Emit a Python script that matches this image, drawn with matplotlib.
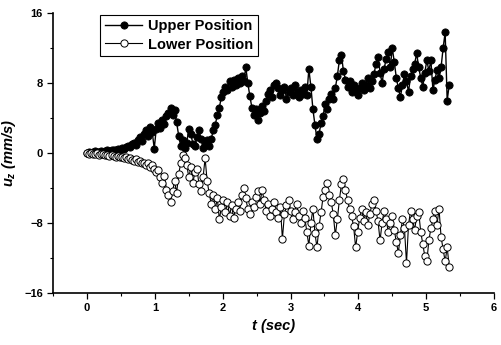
import numpy as np
import matplotlib
matplotlib.use("Agg")
import matplotlib.pyplot as plt
from matplotlib.ticker import MultipleLocator

plt.rcParams['font.family'] = ['Liberation Sans', 'DejaVu Sans']
plt.rcParams['mathtext.fontset'] = 'custom'
plt.rcParams['mathtext.it'] = 'Liberation Sans:bold:italic'
plt.rcParams['mathtext.rm'] = 'Liberation Sans:bold'

# time step between samples (sec)
DT = 0.03

# velocity at the upper position (mm/s)
upper = [
    0.0, 0.1, 0.0, 0.1, 0.2, 0.1, 0.1, 0.2, 0.1, 0.2,
    0.3, 0.2, 0.3, 0.4, 0.3, 0.5, 0.4, 0.6, 0.5, 0.7,
    0.8, 0.7, 1.0, 1.2, 0.9, 1.5, 1.8, 1.4, 2.2, 2.6,
    2.0, 3.0, 2.4, 0.5, 2.8, 3.4, 2.9, 3.8, 3.3, 4.2,
    4.6, 5.2, 4.4, 4.9, 3.5, 2.0, 0.8, 1.5, 0.6, 1.2,
    2.8, 2.2, 1.0, 0.8, 1.8, 2.6, 1.6, 0.6, 0.9, 1.5,
    0.8, 1.6, 2.6, 3.2, 4.4, 5.2, 6.4, 7.0, 7.6, 7.2,
    8.2, 7.6, 8.4, 7.8, 8.6, 8.0, 8.8, 8.2, 9.8, 8.0,
    6.5, 5.2, 4.4, 5.0, 3.8, 4.6, 5.4, 4.8, 6.0, 6.8,
    7.2, 6.4, 7.8, 8.0, 7.4, 6.6, 7.2, 7.6, 6.2, 7.0,
    7.4, 6.6, 7.8, 7.0, 6.4, 7.2, 6.8, 7.6, 6.6, 9.6,
    7.6, 5.0, 3.2, 1.6, 2.2, 3.4, 4.2, 5.6, 5.0, 6.2,
    6.8, 6.2, 7.4, 8.8, 10.6, 11.2, 9.4, 8.4, 7.6, 8.2,
    7.0, 7.8, 7.2, 6.6, 7.4, 8.0, 7.2, 7.8, 8.6, 7.4,
    8.2, 9.0, 10.2, 11.0, 9.2, 8.0, 9.6, 10.8, 11.6, 9.8,
    12.0, 10.4, 8.6, 7.4, 6.4, 7.8, 9.0, 8.2, 7.0, 8.8,
    9.6, 10.2, 11.4, 9.8, 8.6, 7.6, 9.2, 10.6, 9.4, 10.6,
    7.2, 8.4, 9.5, 8.6, 9.8, 12.0, 13.8, 6.0, 7.8,
]

# velocity at the lower position (mm/s)
lower = [
    0.0, -0.1, 0.0, -0.1, -0.1, 0.0, -0.2, -0.1, -0.1, -0.2,
    -0.2, -0.3, -0.2, -0.3, -0.4, -0.3, -0.5, -0.4, -0.6, -0.5,
    -0.7, -0.6, -0.8, -0.9, -0.7, -1.0, -0.9, -1.2, -1.1, -1.4,
    -1.2, -1.6, -1.4, -1.8, -2.2, -2.0, -2.8, -3.4, -2.6, -4.2,
    -4.8, -5.6, -4.4, -3.2, -4.6, -2.4, -1.2, -0.2, -0.6, -1.4,
    -2.8, -1.6, -3.4, -2.2, -1.8, -3.6, -4.4, -2.8, -0.6, -3.2,
    -4.6, -5.8, -4.8, -6.4, -5.2, -7.6, -6.2, -5.4, -6.8, -5.6,
    -7.2, -6.0, -7.4, -6.4, -5.6, -6.6, -4.8, -4.0, -5.2, -6.4,
    -7.0, -5.6, -6.2, -5.0, -4.4, -5.8, -4.2, -5.4, -6.6, -5.8,
    -7.2, -6.4, -5.6, -6.8, -7.4, -6.2, -9.8, -7.0, -6.0, -5.4,
    -6.6, -7.6, -6.8, -5.8, -7.2, -8.0, -6.6, -7.4, -9.0, -10.6,
    -8.0, -6.4, -9.2, -10.8, -8.4, -6.8, -5.0, -4.2, -3.4, -4.8,
    -5.6, -7.0, -9.4, -7.6, -5.4, -3.6, -3.0, -4.2, -5.4, -6.4,
    -7.2, -8.4, -10.8, -9.0, -7.4, -6.4, -7.8, -6.8, -8.2, -7.0,
    -5.8, -5.4, -6.6, -7.8, -10.0, -8.0, -6.6, -7.6, -9.0, -8.0,
    -7.2, -8.8, -10.2, -11.4, -9.4, -7.6, -8.6, -12.6, -8.2, -6.6,
    -7.6, -8.8, -7.2, -6.8, -9.0, -10.4, -11.8, -12.4, -10.0, -8.6,
    -7.6, -6.6, -8.2, -6.4, -9.6, -11.0, -12.4, -10.8, -13.0,
]

t = DT * np.arange(len(upper))

fig = plt.figure(figsize=(5.02, 3.45), dpi=100)
ax = fig.add_axes([0.106, 0.151, 0.878, 0.811])

ax.plot(t, upper, color='black', lw=1.0, marker='o', ms=5.2,
        mfc='black', mec='black', mew=0.6, label='Upper Position')
ax.plot(t, lower, color='black', lw=0.8, marker='o', ms=5.2,
        mfc='white', mec='black', mew=0.7, label='Lower Position')

ax.set_xlim(-0.5, 6)
ax.set_ylim(-16, 16)
ax.xaxis.set_major_locator(MultipleLocator(1))
ax.xaxis.set_minor_locator(MultipleLocator(0.5))
ax.yaxis.set_major_locator(MultipleLocator(8))
ax.yaxis.set_minor_locator(MultipleLocator(4))
ax.tick_params(which='major', direction='out', length=4, width=0.9, labelsize=8)
ax.tick_params(which='minor', direction='out', length=2.5, width=0.8)
for lab in ax.get_xticklabels() + ax.get_yticklabels():
    lab.set_fontweight('bold')

ax.spines['top'].set_visible(False)
ax.spines['right'].set_visible(False)
ax.spines['left'].set_linewidth(1.2)
ax.spines['bottom'].set_linewidth(1.2)

ax.set_xlabel('t (sec)', fontsize=10.5, fontweight='bold', style='italic', labelpad=4)
ax.set_ylabel('$u_z$ (mm/s)', fontsize=10.5, fontweight='bold', style='italic', labelpad=4)

leg = ax.legend(loc='upper left', bbox_to_anchor=(0.09, 1.02), fancybox=False,
                edgecolor='black', framealpha=1, handlelength=2.6,
                borderpad=0.3, labelspacing=0.3, handletextpad=0.4,
                prop={'weight': 'bold', 'size': 10.5})
leg.get_frame().set_linewidth(0.8)

fig.savefig('out.png', dpi=100)
